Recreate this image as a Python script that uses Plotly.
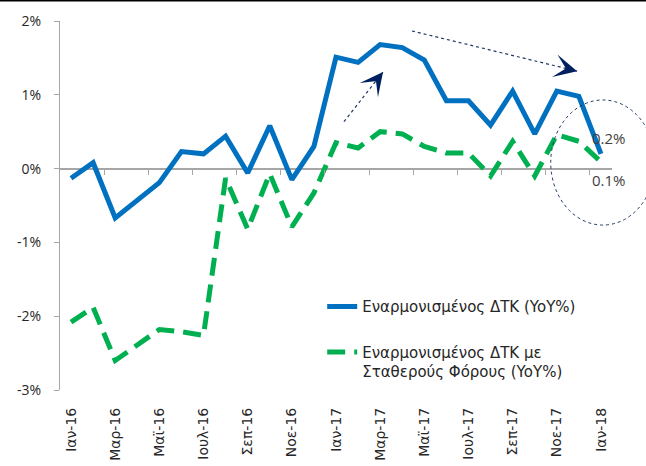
import plotly.graph_objects as go

months = ["Ιαν-16","Φεβ-16","Μαρ-16","Απρ-16","Μαϊ-16","Ιουν-16","Ιουλ-16","Αυγ-16","Σεπ-16","Οκτ-16","Νοε-16","Δεκ-16",
          "Ιαν-17","Φεβ-17","Μαρ-17","Απρ-17","Μαϊ-17","Ιουν-17","Ιουλ-17","Αυγ-17","Σεπ-17","Οκτ-17","Νοε-17","Δεκ-17","Ιαν-18"]
hicp = [-0.13, 0.08, -0.67, -0.42, -0.19, 0.23, 0.20, 0.44, -0.06, 0.58, -0.15, 0.30,
        1.51, 1.44, 1.68, 1.64, 1.47, 0.92, 0.92, 0.59, 1.05, 0.47, 1.05, 0.98, 0.20]
hicp_ct = [-2.08, -1.88, -2.60, -2.38, -2.18, -2.21, -2.26, -0.13, -0.82, -0.07, -0.79, -0.33,
           0.35, 0.28, 0.50, 0.47, 0.30, 0.21, 0.21, -0.10, 0.37, -0.10, 0.46, 0.37, 0.09]
y_ticks = [-3, -2, -1, 0, 1, 2]
name_hicp = "Εναρμονισμένος ΔΤΚ (YoY%)"
name_ct = "Εναρμονισμένος ΔΤΚ με<br>Σταθερούς Φόρους (YoY%)"

idx = list(range(len(months)))
label_idx = idx[::2]
label_txt = [months[i] for i in label_idx]
minor_ticks = [i + 1.5 for i in idx[:-1:2]]

BLUE = "#0070C0"
GREEN = "#00B050"
NAVY = "#1F3864"
GRID = "#A6A6A6"
TXT = "#404040"

fig = go.Figure()
fig.add_trace(go.Scatter(x=idx, y=hicp, mode="lines", name=name_hicp, legendgroup="a",
                         line=dict(color=BLUE, width=5)))
fig.add_trace(go.Scatter(x=idx, y=hicp_ct, mode="lines", name=name_ct, legendgroup="b",
                         line=dict(color=GREEN, width=5, dash="18px,9px")))
# invisible trace to host the overlay axis with ticks on the zero line
fig.add_trace(go.Scatter(x=[idx[0], idx[-1]], y=[0, 0], mode="lines", xaxis="x2",
                         line=dict(width=0), showlegend=False, hoverinfo="skip"))

fig.update_layout(
    width=646, height=466,
    margin=dict(l=60, r=34, t=21, b=76, autoexpand=False),
    paper_bgcolor="white", plot_bgcolor="white",
    showlegend=True,
    legend=dict(x=0.475, y=0.27, xanchor="left", yanchor="top",
                font=dict(family="DejaVu Sans", size=15, color="#262626"),
                traceorder="grouped", tracegroupgap=23, valign="top",
                bgcolor="rgba(0,0,0,0)"),
    xaxis=dict(range=[-0.5, len(months) - 0.5], tickmode="array", tickvals=label_idx, ticktext=label_txt,
               tickangle=-90, showgrid=False, showline=False, zeroline=False, ticks="",
               ticklabelstandoff=14, automargin=False,
               tickfont=dict(family="DejaVu Sans", size=14, color="#262626")),
    xaxis2=dict(range=[-0.5, len(months) - 0.5], overlaying="x", anchor="free", position=0.6,
                side="bottom", tickmode="array", tickvals=minor_ticks, showticklabels=False,
                ticks="outside", ticklen=5, tickcolor=GRID, showline=False, showgrid=False,
                zeroline=False, automargin=False),
    yaxis=dict(range=[-3, 2], tickmode="array", tickvals=y_ticks,
               ticktext=[f"{v}%" for v in y_ticks], showgrid=False,
               showline=True, linecolor=GRID, linewidth=1, ticks="outside", ticklen=5, tickcolor=GRID,
               zeroline=True, zerolinecolor=GRID, zerolinewidth=1.5,
               ticklabelstandoff=10, automargin=False,
               tickfont=dict(family="Open Sans", size=14, color="#262626")),
)

# value labels for the last point
fig.add_annotation(x=idx[-1], y=hicp[-1], text=f"{hicp[-1]:.1f}%", showarrow=False,
                   xshift=8, yshift=16, font=dict(family="Open Sans", size=15, color=TXT))
fig.add_annotation(x=idx[-1], y=hicp_ct[-1], text=f"{hicp_ct[-1]:.1f}%", showarrow=False,
                   xshift=8, yshift=-18, font=dict(family="Open Sans", size=15, color=TXT))

# dotted arrows
arrows = [((12.36, 0.635), (14.13, 1.31), (-7.4, 9.5)),
          ((15.44, 1.865), (22.92, 1.32), (-11.7, -2.8))]
for (x0, y0), (x1, y1), (ax, ay) in arrows:
    fig.add_shape(type="line", xref="x", yref="y", x0=x0, y0=y0, x1=x1, y1=y1,
                  line=dict(color=NAVY, width=1.2, dash="dot"))
    fig.add_annotation(x=x1, y=y1, ax=ax, ay=ay, text="", showarrow=True, arrowhead=3,
                       arrowsize=3.2, arrowwidth=1.2, arrowcolor="#002060", standoff=0)

# dotted ellipse
fig.add_shape(type="circle", xref="paper", yref="paper", x0=0.889, x1=1.078, y0=0.447, y1=0.786,
              line=dict(color=NAVY, width=1, dash="dot"))
# top border line
fig.add_shape(type="line", xref="paper", yref="paper", x0=-0.12, x1=1.07, y0=1.055, y1=1.055,
              line=dict(color="black", width=1.5))

fig.write_html("out.html", config={"displayModeBar": False},
               post_script="document.body.style.margin='0px';")
